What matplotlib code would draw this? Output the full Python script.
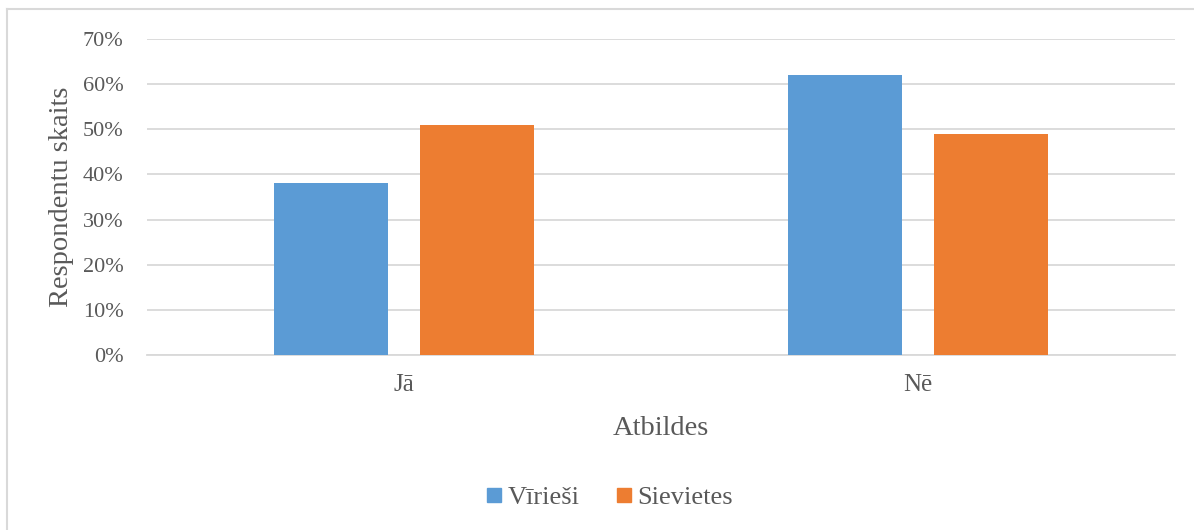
import matplotlib.pyplot as plt
import numpy as np
from matplotlib.lines import Line2D

# =========================
# DATOS
# =========================
categories = ["Jā", "Nē"]
series_names = ["Vīrieši", "Sievietes"]
viriesi = [0.38, 0.62]
sievietes = [0.51, 0.49]
y_ticks = [0.0, 0.1, 0.2, 0.3, 0.4, 0.5, 0.6, 0.7]

BLUE = "#5b9bd5"
ORANGE = "#ed7d31"
TEXT = "#595959"
GRID = "#d9d9d9"

plt.rcParams["font.family"] = ["Liberation Serif", "DejaVu Serif"]

fig = plt.figure(figsize=(11.94, 5.30), dpi=100)
ax = fig.add_axes([147 / 1194, 1 - 355 / 530, (1175 - 147) / 1194, (355 - 39) / 530])

x = np.arange(len(categories))
width = 0.222
offset = 0.142
ax.bar(x - offset, viriesi, width, color=BLUE, label=series_names[0], zorder=3)
ax.bar(x + offset, sievietes, width, color=ORANGE, label=series_names[1], zorder=3)

ax.set_xlim(-0.5, len(categories) - 0.5)
ax.set_ylim(0, 0.7)
ax.set_yticks(y_ticks)
ax.set_yticklabels([f"{int(round(v * 100))}%" for v in y_ticks])
ax.set_xticks(x)
ax.set_xticklabels(categories)

ax.yaxis.grid(True, color=GRID, linewidth=1.3, zorder=0)
for s in ["top", "right", "left"]:
    ax.spines[s].set_visible(False)
ax.spines["bottom"].set_color(GRID)
ax.spines["bottom"].set_linewidth(1.3)

ax.tick_params(axis="y", length=0, pad=17, labelsize=16, labelcolor=TEXT)
ax.tick_params(axis="x", length=0, pad=14, labelsize=18, labelcolor=TEXT)

ax.set_xlabel("Atbildes", fontsize=20.5, color=TEXT, labelpad=14)
ax.set_ylabel("Respondentu skaits", fontsize=20.5, color=TEXT, labelpad=6)

handles = [
    Line2D([], [], marker="s", linestyle="none", markersize=10, color=BLUE),
    Line2D([], [], marker="s", linestyle="none", markersize=10, color=ORANGE),
]
leg = fig.legend(
    handles,
    series_names,
    loc="center",
    bbox_to_anchor=(607 / 1194, 1 - 497 / 530),
    ncol=2,
    frameon=False,
    fontsize=19,
    labelcolor=TEXT,
    handletextpad=0.0,
    columnspacing=1.2,
    handlelength=1.0,
)
for t in leg.get_texts():
    t.set_family(["Liberation Serif", "DejaVu Serif"])

# marco exterior (solo izquierda y arriba visibles)
fig.add_artist(Line2D([7 / 1194, 7 / 1194], [0, 1 - 9 / 530], color=GRID, linewidth=1.5, transform=fig.transFigure))
fig.add_artist(Line2D([7 / 1194, 1], [1 - 9 / 530, 1 - 9 / 530], color=GRID, linewidth=1.5, transform=fig.transFigure))

fig.savefig("out.png", dpi=100)
